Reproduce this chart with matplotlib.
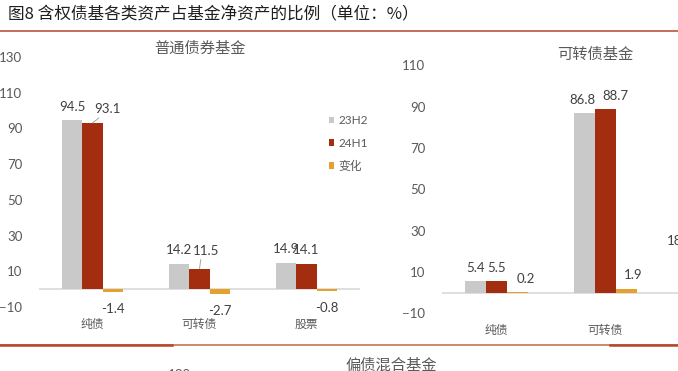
import matplotlib
matplotlib.use('Agg')
import matplotlib.pyplot as plt
from matplotlib.lines import Line2D
import numpy as np

W, H = 678, 371

# 数据
fig_title = '图8 含权债基各类资产占基金净资产的比例（单位：%）'
series = ['23H2', '24H1', '变化']

bond_title = '普通债券基金'
bond_cats = ['纯债', '可转债', '股票']
bond_23h2 = [94.5, 14.2, 14.9]
bond_24h1 = [93.1, 11.5, 14.1]
bond_chg = [-1.4, -2.7, -0.8]
bond_yticks = [-10, 10, 30, 50, 70, 90, 110, 130]

cb_title = '可转债基金'
cb_cats = ['纯债', '可转债', '股票']
cb_23h2 = [5.4, 86.8, 18.4]
cb_24h1 = [5.5, 88.7, 17.6]
cb_chg = [0.2, 1.9, -0.8]
cb_yticks = [-10, 10, 30, 50, 70, 90, 110]

next_title = '偏债混合基金'

GREY = '#C9C9C9'
RED = '#A32D0F'
ORANGE = '#E5A02D'
TXT = '#595959'
LINE = '#B5472D'
CJK = 'Noto Sans CJK SC'

plt.rcParams['font.family'] = ['Lato', CJK]


def px(x, y):
    return x / W, 1 - y / H


def draw(ax, cats, a, b, c, yticks, shifts):
    x = np.arange(len(cats))
    w = 0.19
    bars = [ax.bar(x - w, a, w, color=GREY),
            ax.bar(x, b, w, color=RED),
            ax.bar(x + w, c, w, color=ORANGE)]
    ax.axhline(0, color='#D9D9D9', lw=1.2, zorder=0)
    for k, vals in enumerate([a, b, c]):
        for i, v in enumerate(vals):
            xi = x[i] + (k - 1) * w
            dx, dy, leader = shifts.get((k, i), (0, None, False))
            if v >= 0:
                dy = 7 if dy is None else dy
                va = 'baseline'
            else:
                dy = -8 if dy is None else dy
                va = 'top'
            ap = None
            if leader:
                ap = dict(arrowstyle='-', color='#A6A6A6', lw=0.7,
                          shrinkA=0, shrinkB=0, relpos=(0.3, 0))
            ax.annotate(f'{v:.1f}', (xi, v), xytext=(dx, dy),
                        textcoords='offset points', ha='center', va=va,
                        fontsize=9.5, color='#404040', arrowprops=ap)
    ax.set_xlim(-0.5, len(cats) - 0.5)
    ax.set_ylim(yticks[0], yticks[-1])
    ax.set_yticks(yticks)
    ax.set_xticks(x, labels=cats)
    for t in ax.get_xticklabels():
        t.set_fontfamily(CJK)
    ax.tick_params(axis='y', length=0, pad=12, labelsize=9.5, labelcolor=TXT)
    ax.tick_params(axis='x', length=0, pad=8, labelsize=8.5, labelcolor=TXT)
    for s in ax.spines.values():
        s.set_visible(False)
    return bars


fig = plt.figure(figsize=(W / 100, H / 100), dpi=100)

ax1 = fig.add_axes([39 / W, 1 - 307 / H, 321 / W, 250 / H])
bars = draw(ax1, bond_cats, bond_23h2, bond_24h1, bond_chg, bond_yticks,
            {(1, 0): (11, 7, True), (1, 1): (5, 10, True)})

ax2 = fig.add_axes([442 / W, 1 - 313.3 / H, 327 / W, 247.9 / H])
draw(ax2, cb_cats, cb_23h2, cb_24h1, cb_chg, cb_yticks,
     {(0, 1): (-1.5, 7, False), (1, 1): (7, 7, False),
      (2, 0): (6, 7, False), (2, 1): (5, 7, False),
      (0, 2): (-10, 7, False)})

ax1.legend(bars, series, loc='upper left', bbox_to_anchor=px(329, 115),
           bbox_transform=fig.transFigure, frameon=False, borderpad=0,
           borderaxespad=0, handlelength=0.45, handleheight=0.45,
           handletextpad=0.35, labelspacing=1.0, fontsize=8.5,
           labelcolor=TXT)

# 标题与分隔线
fig.text(*px(8, 15), fig_title, family=CJK, fontsize=12, color='#1F1F1F',
         ha='left', va='center')
fig.text(*px(200, 48), bond_title, family=CJK, fontsize=11, color=TXT,
         ha='center', va='center')
fig.text(*px(595, 54), cb_title, family=CJK, fontsize=11, color=TXT,
         ha='center', va='center')
fig.text(*px(391, 365), next_title, family=CJK, fontsize=11, color=TXT,
         ha='center', va='center')
fig.text(*px(179, 374.5), '130', fontsize=9.5, color=TXT,
         ha='center', va='center')

fig.add_artist(Line2D([0, 1], [1 - 30.5 / H] * 2, transform=fig.transFigure,
                      color=LINE, lw=1.1))
y_b = 1 - 344.5 / H
fig.add_artist(Line2D([0, 1], [y_b] * 2, transform=fig.transFigure,
                      color='#CF8572', lw=1.4))
fig.add_artist(Line2D([0, 172 / W], [y_b] * 2, transform=fig.transFigure,
                      color=LINE, lw=1.8))
fig.add_artist(Line2D([610 / W, 1], [y_b] * 2, transform=fig.transFigure,
                      color=LINE, lw=1.8))

fig.savefig('out.png', dpi=100)
